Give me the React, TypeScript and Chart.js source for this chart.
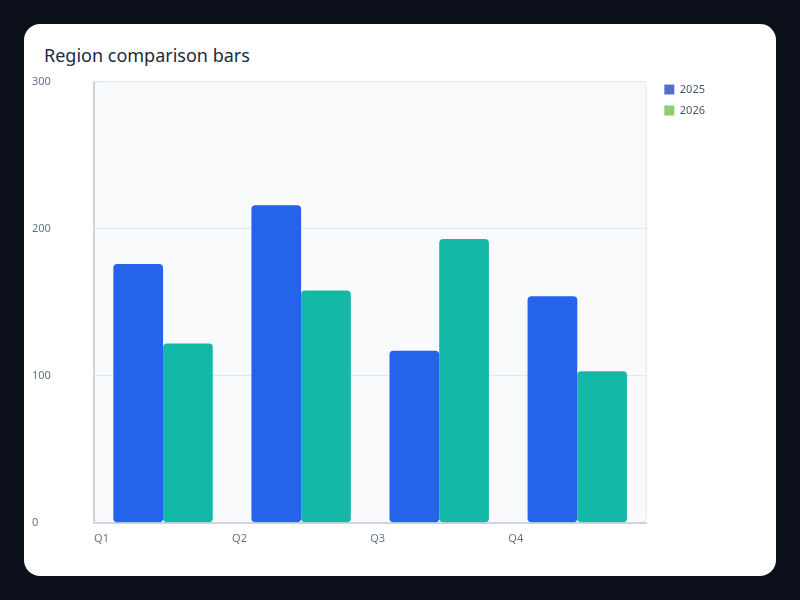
import { useEffect, useRef } from 'react';
import { Chart, registerables } from 'chart.js';

Chart.register(...registerables);

const quarters = ['Q1', 'Q2', 'Q3', 'Q4'];
const values2025 = [176, 216, 117, 154];
const values2026 = [122, 158, 193, 103];
const seriesNames = ['2025', '2026'];
const yTicks = [0, 100, 200, 300];

const FONT = "'Noto Sans', 'DejaVu Sans', sans-serif";

// rounded background + light frame behind the plot
const plotFrame = {
  id: 'plotFrame',
  beforeDraw(chart: any) {
    const { ctx, chartArea: a } = chart;
    ctx.save();
    ctx.beginPath();
    ctx.roundRect(a.left, a.top, a.right - a.left, a.bottom - a.top, 6);
    ctx.fillStyle = '#f8fafc';
    ctx.fill();
    ctx.lineWidth = 1;
    ctx.strokeStyle = '#e2e8f0';
    ctx.stroke();
    ctx.restore();
  },
  // leave a small gap between the plot and the legend
  afterLayout(chart: any) {
    const lg = chart.legend;
    if (lg) {
      const w = lg.right - lg.left;
      lg.left = chart.chartArea.right + 8;
      lg.right = lg.left + w;
      lg.top -= 2;
      lg.bottom -= 2;
    }
  },
};

export default function App() {
  const canvasRef = useRef<HTMLCanvasElement>(null);

  useEffect(() => {
    if (!canvasRef.current) return;
    const chart = new Chart(canvasRef.current, {
      type: 'bar',
      data: {
        labels: quarters,
        datasets: [
          {
            label: seriesNames[0],
            data: values2025,
            backgroundColor: '#2563eb',
            borderRadius: 4,
            borderSkipped: false,
          },
          {
            label: seriesNames[1],
            data: values2026,
            backgroundColor: '#14b8a6',
            borderRadius: 4,
            borderSkipped: false,
          },
        ],
      },
      options: {
        animation: false,
        responsive: true,
        maintainAspectRatio: false,
        layout: { padding: { top: 4, bottom: 8, left: 0, right: 61 } },
        datasets: { bar: { categoryPercentage: 0.72, barPercentage: 1 } },
        plugins: {
          tooltip: { enabled: false },
          legend: {
            position: 'right',
            align: 'start',
            labels: {
              boxWidth: 10,
              boxHeight: 10,
              useBorderRadius: true,
              borderRadius: 3,
              padding: 10,
              color: '#475569',
              font: { family: FONT, size: 11 },
              generateLabels: () =>
                seriesNames.map((name, i) => ({
                  text: name,
                  fillStyle: i === 0 ? '#5470c6' : '#91cc75',
                  strokeStyle: 'transparent',
                  lineWidth: 0,
                  fontColor: '#475569',
                  hidden: false,
                  datasetIndex: i,
                })),
            },
          },
        },
        scales: {
          x: {
            grid: { display: false, drawTicks: false },
            border: { display: true, color: '#cbd5e1', width: 2 },
            ticks: {
              align: 'start',
              labelOffset: -69,
              padding: 9,
              color: '#64748b',
              font: { family: FONT, size: 11 },
            },
          },
          y: {
            min: 0,
            max: 300,
            afterFit: (scale: any) => {
              scale.width = 62;
            },
            afterBuildTicks: (scale: any) => {
              scale.ticks = yTicks.map((v) => ({ value: v }));
            },
            grid: { color: '#e2e8f0', drawTicks: false },
            border: { display: true, color: '#cbd5e1', width: 2 },
            ticks: {
              crossAlign: 'far',
              color: '#64748b',
              font: { family: FONT, size: 11 },
            },
          },
        },
      },
      plugins: [plotFrame],
    });
    return () => chart.destroy();
  }, []);

  return (
    <div style={{ position: 'fixed', inset: 0, background: '#0b0f1a' }}>
      <div
        style={{
          position: 'absolute',
          left: 24,
          top: 24,
          width: 752,
          height: 552,
          borderRadius: 16,
          background: '#ffffff',
        }}
      >
        <div
          style={{
            position: 'absolute',
            left: 20,
            top: 19,
            fontFamily: FONT,
            fontSize: 18,
            lineHeight: '24px',
            color: '#1e293b',
          }}
        >
          Region comparison bars
        </div>
        <div style={{ position: 'absolute', left: 8, top: 48, width: 736, height: 490 }}>
          <canvas ref={canvasRef} />
        </div>
      </div>
    </div>
  );
}
